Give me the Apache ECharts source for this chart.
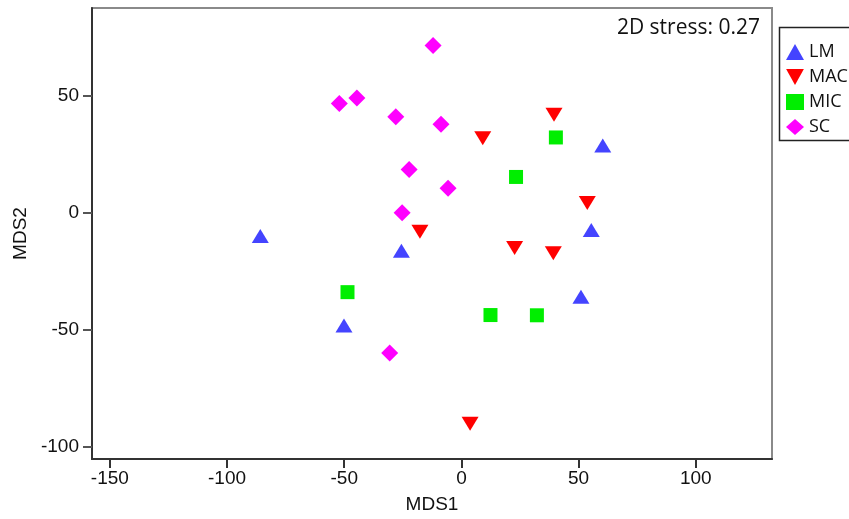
<!DOCTYPE html>
<html>
<head>
<meta charset="utf-8">
<script src="https://cdn.jsdelivr.net/npm/echarts@6/dist/echarts.min.js"></script>
<style>html,body{margin:0;padding:0;background:#fff}#c{width:849px;height:519px}</style>
</head>
<body>
<div id="c"></div>
<script>
const groups = ['LM', 'MAC', 'MIC', 'SC'];
const LM = [[-85.8, -10.0], [-25.6, -16.3], [-50.1, -48.3], [51.0, -36.0], [55.4, -7.4], [60.3, 28.8]];
const MAC = [[-17.7, -8.1], [9.1, 31.9], [39.5, 41.9], [22.7, -15.1], [39.2, -17.4], [53.7, 4.1], [3.7, -90.3]];
const MIC = [[40.3, 32.2], [23.3, 15.3], [-48.6, -34.0], [12.4, -43.8], [32.2, -43.9]];
const SC = [[-12.1, 71.5], [-52.1, 46.7], [-44.6, 49.1], [-28.0, 41.1], [-8.7, 37.9], [-22.3, 18.5], [-5.7, 10.5], [-25.3, 0.0], [-30.6, -60.0]];
const xTicks = [-150, -100, -50, 0, 50, 100];
const yTicks = [-100, -50, 0, 50];
const xRange = [-157.6, 132.5];
const yRange = [-105.4, 87.6];
const stressText = '2D stress: 0.27';

const colors = ['#4444ff', '#ff0000', '#00ee00', '#ff00ff'];
const symbols = ['triangle', 'path://M0,0L10,0L5,9Z', 'rect', 'diamond'];
const sizes = [[17, 14], [17, 14], [14, 14], [17, 17]];
const dataSets = [LM, MAC, MIC, SC];

const chart = echarts.init(document.getElementById('c'), null, {renderer: 'canvas'});
const axisFont = {fontFamily: "'Liberation Sans', Arial, sans-serif", fontSize: 19, color: '#111'};

chart.setOption({
  animation: false,
  backgroundColor: '#fff',
  title: {
    text: stressText, right: 84, top: 13,
    textStyle: {fontFamily: "'Open Sans', sans-serif", fontSize: 21, fontWeight: 'normal', color: '#111'}
  },
  legend: {
    orient: 'vertical', left: 781, top: 38, itemWidth: 18, itemHeight: 16, itemGap: 7,
    textStyle: {fontFamily: "'Open Sans', sans-serif", fontSize: 18, color: '#111'},
    data: groups.map((g, i) => ({name: g, icon: symbols[i]}))
  },
  graphic: [{
    type: 'rect', shape: {x: 779.5, y: 27.5, width: 80, height: 113},
    style: {fill: 'none', stroke: '#222', lineWidth: 1.5}, silent: true
  }],
  grid: {left: 92, top: 8, right: 77, bottom: 57, show: true, borderColor: '#8a8a8a', borderWidth: 2, containLabel: false},
  xAxis: {
    type: 'value', min: xRange[0], max: xRange[1],
    name: 'MDS1', nameLocation: 'middle', nameGap: 36,
    nameTextStyle: axisFont,
    splitLine: {show: false},
    axisLine: {show: true, onZero: false, lineStyle: {color: '#333', width: 2}},
    axisTick: {show: true, length: 9, customValues: xTicks, lineStyle: {color: '#333', width: 2}},
    axisLabel: {customValues: xTicks, margin: 10, ...axisFont}
  },
  yAxis: {
    type: 'value', min: yRange[0], max: yRange[1],
    name: 'MDS2', nameLocation: 'middle', nameGap: 57, nameRotate: 90,
    nameTextStyle: axisFont,
    splitLine: {show: false},
    axisLine: {show: true, onZero: false, lineStyle: {color: '#333', width: 2}},
    axisTick: {show: true, length: 9, customValues: yTicks, lineStyle: {color: '#555', width: 2}},
    axisLabel: {customValues: yTicks, margin: 13, ...axisFont}
  },
  series: groups.map((g, i) => ({
    name: g, type: 'scatter', data: dataSets[i],
    symbol: symbols[i], symbolSize: sizes[i],
    itemStyle: {color: colors[i], opacity: 1}
  }))
});
</script>
</body>
</html>
